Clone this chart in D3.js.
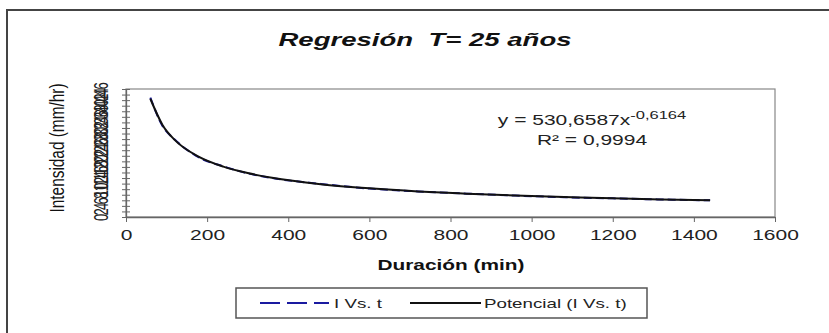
<!DOCTYPE html>
<html>
<head>
<meta charset="utf-8">
<script src="https://cdn.jsdelivr.net/npm/d3@7"></script>
<style>
  body { margin: 0; background: #fff; }
  svg { display: block; font-family: Arial, "Liberation Sans", sans-serif; }
</style>
</head>
<body>
<script>
var width = 829,
  height = 333,
  SX = 1.5; // the picture is stretched sideways

// Data
var duration = [60, 90, 120, 180, 240, 300, 360, 480, 600, 720, 840, 960, 1080, 1200, 1320, 1440];
var intensity = [42.9, 32.7, 27.9, 21.4, 18.2, 15.7, 14.0, 11.9, 10.2, 9.2, 8.4, 7.7, 7.1, 6.7, 6.3, 6.0];
var trend = [42.5, 33.1, 27.7, 21.6, 18.1, 15.8, 14.1, 11.8, 10.3, 9.2, 8.4, 7.7, 7.2, 6.7, 6.3, 6.0];
var xTicks = [0, 200, 400, 600, 800, 1000, 1200, 1400, 1600];
var yTicks = [0, 2, 4, 6, 8, 10, 12, 14, 16, 18, 20, 22, 24, 26, 28, 30, 32, 34, 36, 38, 40, 42, 44, 46];
var seriesNames = ["I Vs. t", "Potencial (I Vs. t)"];

var svg = d3.select("body").append("svg")
  .attr("width", width)
  .attr("height", height);

// outer chart border (cut off at right and bottom)
svg.append("rect")
  .attr("x", 7).attr("y", 10)
  .attr("width", 840).attr("height", 340)
  .attr("fill", "#fff")
  .attr("stroke", "#444")
  .attr("stroke-width", 2);

var plot = { left: 126, right: 775, top: 89, bottom: 217 };

var x = d3.scaleLinear().domain([0, 1600]).range([plot.left, plot.right]);
var y = d3.scaleLinear().domain([0, 46]).range([plot.bottom, plot.top]);

// plot area frame
svg.append("rect")
  .attr("x", plot.left).attr("y", plot.top)
  .attr("width", plot.right - plot.left)
  .attr("height", plot.bottom - plot.top)
  .attr("fill", "none")
  .attr("stroke", "#888")
  .attr("stroke-width", 1.2);

// title
svg.append("text")
  .attr("transform", "translate(425,46) scale(1.45,1)")
  .attr("text-anchor", "middle")
  .attr("font-size", 19)
  .attr("font-weight", "bold")
  .attr("font-style", "italic")
  .attr("fill", "#111")
  .text("Regresión\u00a0\u00a0T= 25 años");

// x axis
var xAxis = svg.append("g")
  .attr("transform", "translate(0," + plot.bottom + ")")
  .call(d3.axisBottom(x).tickValues(xTicks).tickFormat(d3.format("d")).tickSize(5).tickSizeOuter(0));

xAxis.select(".domain").attr("stroke", "#666").attr("stroke-width", 1.3);
xAxis.selectAll(".tick line").attr("stroke", "#666");
xAxis.selectAll(".tick text")
  .attr("y", 0).attr("dy", null)
  .attr("transform", "translate(0,23) scale(" + SX + ",1)")
  .attr("font-size", 14)
  .attr("fill", "#222")
  .attr("font-family", "Arial, 'Liberation Sans', sans-serif");

// y axis
var yAxis = svg.append("g")
  .attr("transform", "translate(" + plot.left + ",0)")
  .call(d3.axisLeft(y).tickValues(yTicks).tickSize(4).tickSizeOuter(0));

yAxis.select(".domain").attr("stroke", "#666").attr("stroke-width", 1.3);
yAxis.selectAll(".tick line").attr("stroke", "#666").attr("x2", -4).attr("x1", 4);
yAxis.selectAll(".tick text")
  .attr("x", 0).attr("dy", null)
  .attr("text-anchor", "middle")
  .attr("transform", "translate(-18,0) scale(" + SX + ",1) rotate(-90)")
  .attr("font-size", 13)
  .attr("fill", "#222")
  .attr("font-family", "Arial, 'Liberation Sans', sans-serif");

// axis titles
svg.append("text")
  .attr("transform", "translate(451,270) scale(1.49,1)")
  .attr("text-anchor", "middle")
  .attr("font-size", 14)
  .attr("font-weight", "bold")
  .attr("fill", "#111")
  .text("Duración (min)");

svg.append("text")
  .attr("transform", "translate(64,148) scale(" + SX + ",1) rotate(-90)")
  .attr("text-anchor", "middle")
  .attr("font-size", 14)
  .attr("textLength", 129)
  .attr("lengthAdjust", "spacingAndGlyphs")
  .attr("fill", "#111")
  .text("Intensidad (mm/hr)");

// series
var line = d3.line()
  .x(function (d, i) { return x(duration[i]); })
  .y(function (d) { return y(d); })
  .curve(d3.curveMonotoneX);

svg.append("path")
  .datum(intensity)
  .attr("d", line)
  .attr("fill", "none")
  .attr("stroke", "#1a1aa0")
  .attr("stroke-width", 2)
  .attr("stroke-dasharray", "8,4");

svg.append("path")
  .datum(trend)
  .attr("d", line)
  .attr("fill", "none")
  .attr("stroke", "#111")
  .attr("stroke-width", 2);

// regression equation
var eq = svg.append("text")
  .attr("transform", "translate(592,125) scale(" + SX + ",1)")
  .attr("text-anchor", "middle")
  .attr("font-size", 14)
  .attr("fill", "#222");
eq.append("tspan").text("y = 530,6587x");
eq.append("tspan").attr("dy", -6).attr("font-size", 11).text("-0,6164");

svg.append("text")
  .attr("transform", "translate(592,145) scale(" + SX + ",1)")
  .attr("text-anchor", "middle")
  .attr("font-size", 14)
  .attr("fill", "#222")
  .text("R² = 0,9994");

// legend
var legend = svg.append("g");
legend.append("rect")
  .attr("x", 236).attr("y", 288)
  .attr("width", 411).attr("height", 30)
  .attr("fill", "#fff")
  .attr("stroke", "#555")
  .attr("stroke-width", 1.5);

legend.append("line")
  .attr("x1", 260).attr("x2", 329).attr("y1", 303).attr("y2", 303)
  .attr("stroke", "#1a1aa0").attr("stroke-width", 2)
  .attr("stroke-dasharray", "20,7");
legend.append("text")
  .attr("transform", "translate(334,308) scale(" + SX + ",1)")
  .attr("font-size", 12.5)
  .attr("fill", "#222")
  .text(seriesNames[0]);

legend.append("line")
  .attr("x1", 410).attr("x2", 481).attr("y1", 303).attr("y2", 303)
  .attr("stroke", "#111").attr("stroke-width", 2);
legend.append("text")
  .attr("transform", "translate(484,308) scale(" + SX + ",1)")
  .attr("font-size", 12.5)
  .attr("fill", "#222")
  .text(seriesNames[1]);
</script>
</body>
</html>
